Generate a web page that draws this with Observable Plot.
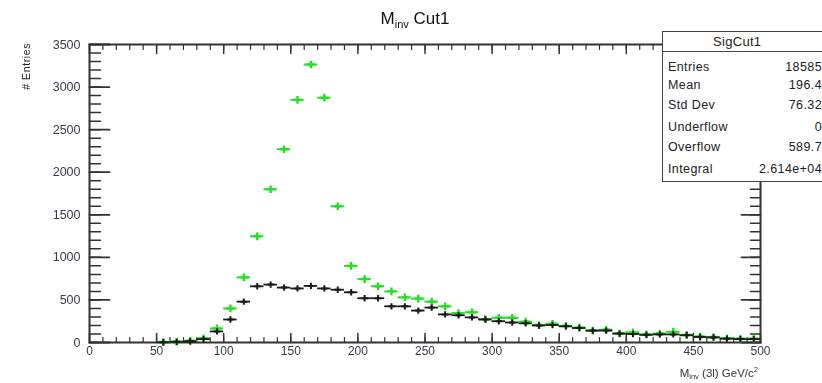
<!DOCTYPE html>
<html><head><meta charset="utf-8">
<script src="https://cdn.jsdelivr.net/npm/d3@7"></script>
<script src="https://cdn.jsdelivr.net/npm/@observablehq/plot@0.6"></script>
<style>
html,body{margin:0;padding:0;background:#fff;overflow:hidden;}
#wrap{position:relative;width:822px;height:383px;overflow:hidden;font-family:"Liberation Sans",Arial,sans-serif;color:#222;filter:blur(0.35px);}
#chart svg{display:block;}
.title{position:absolute;left:415px;top:9px;transform:translateX(-50%);font-size:17px;white-space:nowrap;color:#111;}
.title sub{font-size:11px;vertical-align:-4px;}
.ytitle{position:absolute;left:26px;top:43px;transform-origin:0 0;transform:translate(-6px,0) rotate(-90deg) translateX(-100%);font-size:10.5px;letter-spacing:0.6px;white-space:nowrap;color:#222;}
.xtitle{position:absolute;right:64px;top:365px;font-size:11.5px;white-space:nowrap;color:#333;}
.xtitle sub{font-size:7.5px;vertical-align:-2px;}
.xtitle sup{font-size:7.5px;vertical-align:5px;}
.stats{position:absolute;left:662px;top:31px;width:200px;height:151px;background:#fff;border:1.5px solid #444;box-sizing:border-box;}
.stats .hdr{height:19px;border-bottom:1.5px solid #444;font-size:13px;line-height:19px;padding-left:50px;letter-spacing:0.3px;}
.stats .row{position:absolute;left:0;width:159px;font-size:12.5px;letter-spacing:0.4px;}
.stats .lab{position:absolute;left:5px;}
.stats .val{position:absolute;right:0;}
</style></head><body>
<div id="wrap">
  <div id="chart"></div>
  <div class="title">M<sub>inv</sub> Cut1</div>
  <div class="ytitle"># Entries</div>
  <div class="xtitle">M<sub>inv</sub> (3l) GeV/c<sup>2</sup></div>
  <div class="stats" id="stats"><div class="hdr" id="statsTitle"></div></div>
</div>
<script>
// ---- data ----
const binCenters = [5,15,25,35,45,55,65,75,85,95,105,115,125,135,145,155,165,175,185,195,
  205,215,225,235,245,255,265,275,285,295,305,315,325,335,345,355,365,375,385,395,
  405,415,425,435,445,455,465,475,485,495];
const binWidth = 10;
const sigCut1 = [0,0,0,0,0,5,10,20,50,165,400,765,1247,1800,2270,2850,3265,2875,1600,900,
  745,660,600,530,515,480,425,345,355,275,290,290,245,205,220,195,175,140,150,105,
  120,95,105,125,90,70,65,50,45,45];
const otherCut1 = [0,0,0,0,0,3,8,15,40,130,270,480,660,680,645,635,665,635,620,590,
  520,520,425,425,375,410,330,320,295,270,250,235,225,200,205,190,170,140,140,105,
  100,90,95,95,85,65,60,45,40,40];
const xMajorTicks = [0,50,100,150,200,250,300,350,400,450,500];
const yMajorTicks = [0,500,1000,1500,2000,2500,3000,3500];
const xMinorTicks = d3.range(0, 501, 10);
const yMinorTicks = d3.range(0, 3501, 100);
const statsName = "SigCut1";
const statsLabels = ["Entries","Mean","Std Dev","Underflow","Overflow","Integral"];
const statsValues = ["18585","196.4","76.32","0","589.7","2.614e+04"];

const green = "#22e022", black = "#1a1a1a", axisColor = "#333";

const rows = (vals) => binCenters.map((x, i) => ({x, lo: x - binWidth/2, hi: x + binWidth/2, v: vals[i]})).filter(d => d.v > 0);
const sigRows = rows(sigCut1), othRows = rows(otherCut1);

const tickShape = {draw(ctx, l) { ctx.moveTo(0, 0); ctx.lineTo(0, -l); }};
const tk = (data, ch, anchor, rotate, length, w) =>
  Plot.vector(data, {[ch]: d => d, frameAnchor: anchor, rotate, length, anchor: "start", shape: tickShape, stroke: axisColor, strokeWidth: w});

const chart = Plot.plot({
  width: 822, height: 383,
  marginLeft: 89, marginRight: 62, marginTop: 44, marginBottom: 41,
  x: {domain: [0, 500]},
  y: {domain: [0, 3500]},
  style: {fontFamily: "Liberation Sans, Arial, sans-serif", background: "transparent", color: "#3a3a48"},
  marks: [
    Plot.axisX({ticks: xMajorTicks, tickSize: 0, tickPadding: 4, fontSize: 12, tickFormat: d => String(d), label: null}),
    Plot.axisY({ticks: yMajorTicks, tickSize: 0, tickPadding: 9, fontSize: 12.5, tickFormat: d => String(d), label: null}),
    tk(xMinorTicks, "x", "bottom", 0, 5, 1.2),
    tk(xMajorTicks, "x", "bottom", 0, 9, 1.5),
    tk(xMinorTicks, "x", "top", 180, 5, 1.2),
    tk(xMajorTicks, "x", "top", 180, 9, 1.5),
    tk(yMinorTicks, "y", "left", 90, 11, 1.5),
    tk(yMajorTicks, "y", "left", 90, 20, 1.8),
    tk(yMinorTicks, "y", "right", -90, 10, 1.5),
    tk(yMajorTicks, "y", "right", -90, 19, 1.8),
    Plot.frame({stroke: axisColor, strokeWidth: 2}),
    Plot.ruleY(sigRows, {x1: "lo", x2: "hi", y: "v", stroke: green, strokeWidth: 2}),
    Plot.dot(sigRows, {x: "x", y: "v", symbol: "plus", r: 2.6, stroke: green, strokeWidth: 2.4}),
    Plot.ruleY(othRows, {x1: "lo", x2: "hi", y: "v", stroke: black, strokeWidth: 1.8}),
    Plot.dot(othRows, {x: "x", y: "v", symbol: "plus", r: 2.2, stroke: black, strokeWidth: 2})
  ]
});
document.getElementById("chart").appendChild(chart);

// stats box
document.getElementById("statsTitle").textContent = statsName;
const st = document.getElementById("stats");
const rowTops = [28, 46, 66, 88, 108, 130];
statsLabels.forEach((lab, i) => {
  const r = document.createElement("div");
  r.className = "row";
  r.style.top = rowTops[i] + "px";
  r.innerHTML = `<span class="lab"></span><span class="val"></span>`;
  r.querySelector(".lab").textContent = lab;
  r.querySelector(".val").textContent = statsValues[i];
  st.appendChild(r);
});
</script>
</body></html>
